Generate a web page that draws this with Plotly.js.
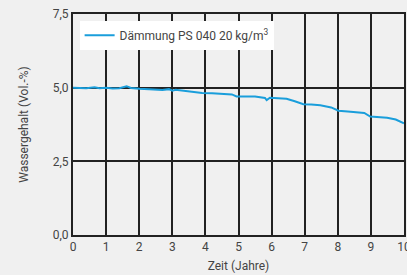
<!DOCTYPE html>
<html><head><meta charset="utf-8">
<script src="https://cdn.plot.ly/plotly-3.0.1.min.js"></script>
<style>html,body{margin:0;padding:0;background:#f0f0f0;}#c{width:407px;height:275px;}</style>
</head><body><div id="c"></div>
<script>
const years = [0,0.2,0.4,0.65,0.8,1.0,1.2,1.4,1.62,1.75,2.0,2.3,2.7,2.9,3.0,3.1,3.3,3.6,3.9,4.2,4.5,4.8,4.94,5.2,5.5,5.8,5.85,5.95,6.2,6.45,6.7,6.96,7.2,7.47,7.8,8.02,8.3,8.58,8.8,8.98,9.2,9.49,9.75,10];
const water = [5.0,4.99,4.98,5.01,4.98,5.0,4.97,4.98,5.05,4.99,4.96,4.95,4.92,4.95,4.9,4.93,4.9,4.87,4.82,4.81,4.8,4.77,4.7,4.71,4.7,4.65,4.58,4.66,4.65,4.62,4.54,4.44,4.43,4.4,4.33,4.22,4.19,4.17,4.14,4.02,4.0,3.98,3.92,3.79];
const seriesName = 'Dämmung PS 040 20 kg/m<sup>3</sup>';
const xTitle = 'Zeit (Jahre)';
const yTitle = 'Wassergehalt (Vol.-%)';
const yTicks = [0, 2.5, 5, 7.5];
const yTickText = ['0,0','2,5','5,0','7,5'];
const xTicks = [0,1,2,3,4,5,6,7,8,9,10];

Plotly.newPlot('c', [{
  x: years, y: water, type: 'scatter', mode: 'lines', name: seriesName,
  line: {color: '#1a9edb', width: 2}
}], {
  width: 407, height: 275,
  margin: {l: 73, r: 3, t: 14, b: 40},
  paper_bgcolor: '#f0f0f0', plot_bgcolor: '#f0f0f0',
  font: {family: 'Roboto, sans-serif', size: 12, color: '#444'},
  showlegend: true,
  legend: {x: 0.02, y: 0.97, xanchor: 'left', yanchor: 'top', bgcolor: '#ffffff', borderwidth: 0, font: {size: 12, color: '#444'}},
  xaxis: {range: [0, 10], tickvals: xTicks, showgrid: true, gridcolor: '#222', gridwidth: 2,
    showline: true, linecolor: '#222', linewidth: 2, mirror: true, zeroline: false, ticks: '',
    automargin: false, ticklabeloverflow: 'allow',
    title: {text: xTitle, font: {size: 12, color: '#444'}, standoff: 8}, tickfont: {size: 12, color: '#444'}},
  yaxis: {range: [0, 7.5], tickvals: yTicks, ticktext: yTickText, showgrid: true, gridcolor: '#222', gridwidth: 2,
    showline: true, linecolor: '#222', linewidth: 2, mirror: true, zeroline: false, ticks: '',
    automargin: false,
    title: {text: yTitle, font: {size: 12, color: '#444'}, standoff: 22}, tickfont: {size: 12, color: '#444'}}
}, {displayModeBar: false, staticPlot: true});
</script></body></html>
